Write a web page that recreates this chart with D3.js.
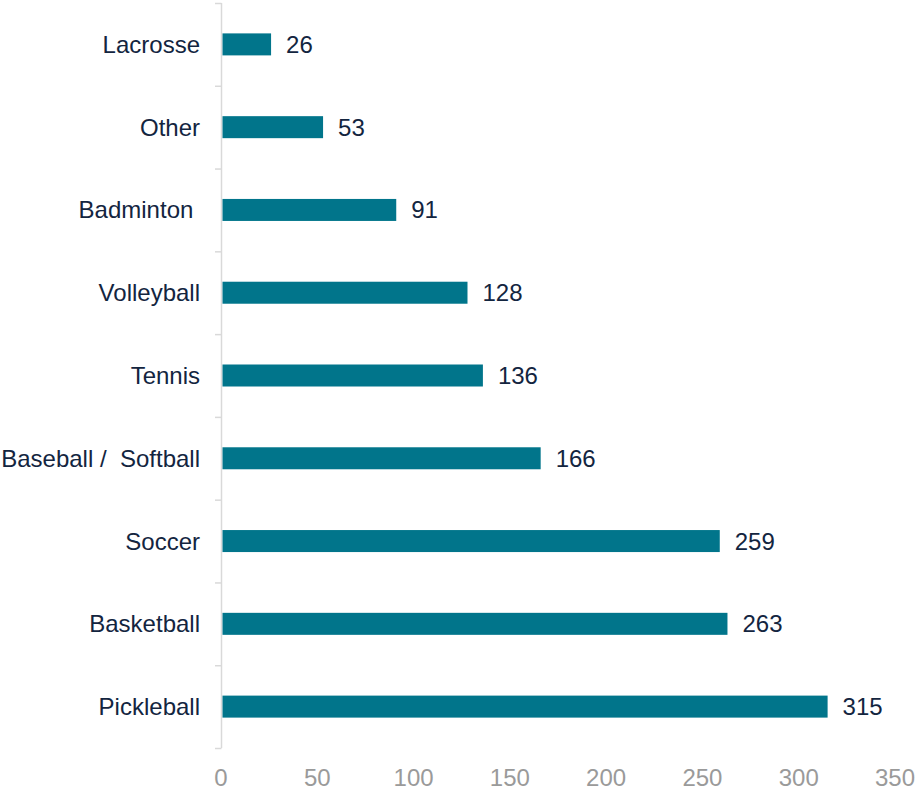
<!DOCTYPE html>
<html><head><meta charset="utf-8">
<script src="https://cdn.jsdelivr.net/npm/d3@7"></script>
<style>body{margin:0;background:#fff}svg{display:block}text{font-family:"Liberation Sans",Arial,sans-serif}</style>
</head><body>
<script>
const categories = ["Lacrosse","Other","Badminton ","Volleyball","Tennis","Baseball /  Softball","Soccer","Basketball","Pickleball"];
const values = [26,53,91,128,136,166,259,263,315];
const xTicks = [0,50,100,150,200,250,300,350];

const W=915,H=790;
const svg=d3.select("body").append("svg").attr("width",W).attr("height",H);
const x=d3.scaleLinear().domain([0,350]).range([221,895]);
const y=d3.scaleBand().domain(categories).range([3,748]).paddingInner(0).paddingOuter(0);
const barH=22;
const fs=24;

const axisCol="#d9d9d9";
svg.append("line").attr("x1",221.5).attr("x2",221.5).attr("y1",3).attr("y2",748).attr("stroke",axisCol).attr("stroke-width",1.5);
const bounds=categories.map(c=>y(c)).concat([y.range()[1]]);
svg.selectAll(".bt").data(bounds).enter().append("line")
 .attr("x1",215).attr("x2",221.5).attr("y1",d=>d+0.5).attr("y2",d=>d+0.5)
 .attr("stroke",axisCol).attr("stroke-width",1.5);

svg.selectAll(".bar").data(categories).enter().append("rect")
 .attr("x",x(0)+1.5).attr("y",c=>y(c)+y.bandwidth()/2-barH/2)
 .attr("width",(c,i)=>x(values[i])-x(0)-1.5).attr("height",barH)
 .attr("fill","#01758b");

svg.selectAll(".vl").data(categories).enter().append("text")
 .attr("x",(c,i)=>x(values[i])+15).attr("y",c=>y(c)+y.bandwidth()/2+8.5)
 .attr("font-size",fs).attr("fill","#13253f").text((c,i)=>values[i]);

svg.selectAll(".cl").data(categories).enter().append("text")
 .attr("x",200).attr("y",c=>y(c)+y.bandwidth()/2+8.5).attr("text-anchor","end")
 .attr("xml:space","preserve").style("white-space","pre")
 .attr("font-size",fs).attr("fill","#13253f").text(c=>c);

svg.selectAll(".xt").data(xTicks).enter().append("text")
 .attr("x",d=>Math.min(x(d),W-20)).attr("y",786).attr("text-anchor","middle")
 .attr("font-size",fs).attr("fill","#9a9a9a").text(d=>d);
</script>
</body></html>
